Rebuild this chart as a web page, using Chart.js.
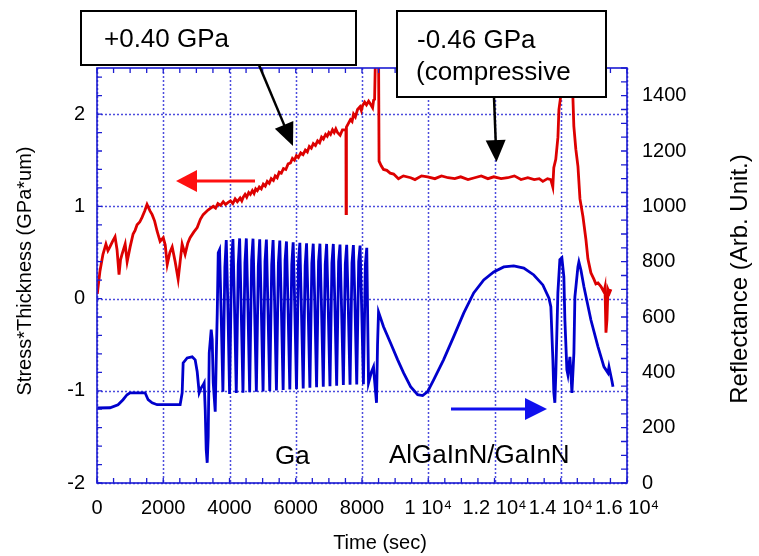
<!DOCTYPE html>
<html><head><meta charset="utf-8">
<script src="https://cdn.jsdelivr.net/npm/chart.js@4.4.0/dist/chart.umd.min.js"></script>
<style>html,body{margin:0;padding:0;background:#fff;}#wrap{width:759px;height:556px;}</style>
</head><body><div id="wrap"><canvas id="c" width="759" height="556"></canvas></div>
<script>
// ---- data ----
const redTime = [9,90,180,270,330,390,470,545,605,665,710,755,850,910,1000,1090,1150,1210,1290,1360,1440,1510,1600,1665,1740,1815,1905,2000,2060,2120,2200,2270,2360,2450,2510,2570,2660,2740,2810,2920,3025,3120,3205,3350,
3510,3580,3650,3730,3810,3880,3950,4030,4100,4170,4235,4320,4370,4415,4470,4520,4580,4630,4690,4740,4790,4840,4900,4960,5020,5080,5140,5200,5260,5325,5380,5440,5500,5565,5630,5700,5770,5840,5900,5960,6020,6080,6150,6220,6290,6350,6410,6470,6530,6595,6660,6720,6780,6835,6900,6950,7000,7050,7110,7160,7210,7260,7340,7410,7515,7520,
7530,7590,7650,7700,7745,7800,7865,7940,7980,8015,8080,8135,8200,8255,8320,8350,8380,8410,8500,8515,8580,8650,8750,8850,8955,9100,9250,9470,9600,9800,9980,10200,10400,10600,10800,10980,11200,11400,11600,11800,11980,12200,12400,12600,12800,13005,13200,13350,13460,13600,13700,13760,13790,13850,13915,13945,14005,14100,14185,14300,14365,14395,14455,14520,14580,14670,14760,14820,14910,15000,15060,15125,15215,15305,15335,15365,15395,15425,15470,15515];
const redStress = [0.05,0.30,0.48,0.59,0.52,0.56,0.62,0.67,0.53,0.26,0.42,0.48,0.59,0.40,0.56,0.70,0.74,0.80,0.83,0.88,0.95,1.02,0.95,0.91,0.84,0.73,0.62,0.66,0.58,0.37,0.50,0.56,0.40,0.21,0.40,0.59,0.48,0.60,0.66,0.72,0.77,0.86,0.91,0.96,
1.00,0.98,1.03,1.01,1.05,1.02,1.04,1.06,1.03,1.08,1.05,1.09,1.06,1.10,1.13,1.10,1.15,1.13,1.17,1.14,1.19,1.17,1.21,1.19,1.24,1.22,1.27,1.25,1.30,1.28,1.33,1.31,1.37,1.36,1.41,1.40,1.46,1.47,1.52,1.50,1.55,1.53,1.58,1.56,1.61,1.59,1.65,1.63,1.68,1.66,1.71,1.69,1.75,1.73,1.78,1.76,1.80,1.78,1.83,1.80,1.84,1.80,1.77,1.83,1.83,0.92,
1.86,1.90,1.94,1.92,2.00,1.97,2.05,2.08,2.04,2.09,2.13,2.10,2.14,2.11,2.07,2.15,2.16,2.70,2.70,1.49,1.44,1.40,1.39,1.36,1.35,1.30,1.33,1.31,1.29,1.33,1.32,1.30,1.33,1.31,1.30,1.32,1.29,1.31,1.33,1.30,1.32,1.30,1.31,1.33,1.29,1.31,1.29,1.30,1.27,1.30,1.29,1.21,1.42,1.51,1.75,2.05,2.21,2.25,2.23,2.24,2.20,1.87,1.62,1.43,1.08,0.89,0.64,0.43,0.28,0.21,0.16,0.17,0.13,0.07,0.12,-0.37,-0.23,0.10,0.06,0.10];

const blueTime = [9,393,635,786,907,998,1452,1543,1664,1815,2510,2571,2601,2722,2873,2964,3025,3085,3146,3206,3236,3267,3297,3327,3357,3388,3448,3478,3509,3569,3599,3630,3660,
3700,3745,3801,3860,3902,3947,4003,4062,4104,4149,4205,4264,4306,4351,4407,4466,4508,4553,4609,4668,4710,4755,4811,4870,4912,4957,5013,5072,5114,5159,5215,5274,5316,5361,5417,5476,5518,5563,5619,5678,5720,5765,5821,5880,5922,5967,6023,6082,6124,6169,6225,6284,6326,6371,6427,6486,6528,6573,6629,6688,6730,6775,6831,6890,6932,6977,7033,7092,7134,7179,7235,7294,7336,7381,7437,7496,7538,7583,7639,7698,7740,7785,7841,7900,7942,7987,8043,8102,8144,
8197,8287,8348,8378,8438,8469,8499,8650,8862,9074,9255,9467,9679,9830,9981,10163,10465,10768,11070,11372,11675,11977,12280,12582,12885,13187,13459,13641,13701,13762,13792,13822,13852,13913,13973,14034,14094,14125,14185,14216,14276,14306,14337,14397,14427,14518,14548,14609,14700,14911,15123,15305,15426,15456,15547,15577];
const blueRefl = [271,272,283,301,319,326,326,301,290,283,283,326,434,452,456,445,402,326,344,355,362,265,120,73,167,470,554,518,362,258,445,615,832,
843,630,330,780,878,660,322,800,882,650,325,790,884,640,326,795,884,655,328,805,883,645,330,785,881,650,331,800,880,640,333,790,878,660,334,795,876,650,336,805,873,645,338,790,870,655,340,800,868,640,342,785,866,650,344,795,865,660,346,800,865,645,348,790,864,650,350,795,864,655,352,800,862,640,354,790,861,650,355,795,860,660,356,800,858,645,357,790,850,
362,402,420,373,290,500,618,565,506,446,398,348,319,316,330,373,446,529,614,687,734,763,781,785,777,752,716,669,637,446,326,290,398,687,807,814,745,589,409,391,456,398,326,470,673,781,799,770,709,589,493,420,398,420,368,348];

const xTickValues = [0,2000,4000,6000,8000,10000,12000,14000,16000];
const xTickLabels = ['0','2000','4000','6000','8000','1 10\u2074','1.2 10\u2074','1.4 10\u2074','1.6 10\u2074'];
const leftTickValues = [-2,-1,0,1,2];
const leftTickLabels = ['-2','-1','0','1','2'];
const rightTickValues = [0,200,400,600,800,1000,1200,1400];
const rightTickLabels = ['0','200','400','600','800','1000','1200','1400'];

const FONT = "'Liberation Sans', Arial, Helvetica, sans-serif";
const FRAME = '#1c1cd2';
const GRID = 'rgba(45,45,215,0.85)';
const RED = '#dd0000';
const BLUE = '#0000cc';

function arrow(ctx, x1, y1, x2, y2, color, lw, hl, hw) {
  const dx = x2 - x1, dy = y2 - y1, L = Math.hypot(dx, dy);
  const ux = dx / L, uy = dy / L;
  const bx = x2 - ux * hl, by = y2 - uy * hl;
  ctx.save();
  ctx.strokeStyle = color; ctx.fillStyle = color; ctx.lineWidth = lw; ctx.setLineDash([]);
  ctx.beginPath(); ctx.moveTo(x1, y1); ctx.lineTo(bx + ux * 2, by + uy * 2); ctx.stroke();
  ctx.beginPath(); ctx.moveTo(x2, y2);
  ctx.lineTo(bx - uy * hw, by + ux * hw);
  ctx.lineTo(bx + uy * hw, by - ux * hw);
  ctx.closePath(); ctx.fill();
  ctx.restore();
}

const decor = {
  id: 'decor',
  beforeDatasetsDraw(chart) {
    const {ctx, chartArea: a, scales} = chart;
    ctx.save();
    ctx.strokeStyle = GRID; ctx.lineWidth = 1.5; ctx.setLineDash([2, 2]);
    xTickValues.forEach(v => {
      const x = Math.round(scales.x.getPixelForValue(v)) + 0.5;
      ctx.beginPath(); ctx.moveTo(x, a.top); ctx.lineTo(x, a.bottom); ctx.stroke();
    });
    leftTickValues.forEach(v => {
      const y = Math.round(scales.y.getPixelForValue(v)) + 0.5;
      ctx.beginPath(); ctx.moveTo(a.left, y); ctx.lineTo(a.right, y); ctx.stroke();
    });
    ctx.restore();
  },
  afterDatasetsDraw(chart) {
    const {ctx, chartArea: a, scales} = chart;
    ctx.save();
    ctx.strokeStyle = FRAME; ctx.lineWidth = 1.6; ctx.setLineDash([]);
    ctx.strokeRect(a.left, a.top, a.right - a.left, a.bottom - a.top);
    ctx.lineWidth = 1.3;
    ctx.beginPath();
    for (let i = 0; i <= 32; i++) {
      const x = scales.x.getPixelForValue(i * 500);
      ctx.moveTo(x, a.bottom); ctx.lineTo(x, a.bottom - 5);
      ctx.moveTo(x, a.top); ctx.lineTo(x, a.top + 5);
    }
    for (let i = -10; i <= 12; i++) {
      const y = scales.y.getPixelForValue(i / 5);
      ctx.moveTo(a.left, y); ctx.lineTo(a.left + 5, y);
    }
    for (let i = 0; i <= 30; i++) {
      const y = scales.y2.getPixelForValue(i * 50);
      ctx.moveTo(a.right, y); ctx.lineTo(a.right - 6, y);
    }
    ctx.stroke();
    ctx.restore();
  },
  afterDraw(chart) {
    const ctx = chart.ctx;
    ctx.save();
    arrow(ctx, 255, 181, 176, 181, '#ff1010', 3, 21, 11);
    arrow(ctx, 451, 409, 547, 409, '#1010ee', 3, 22, 11);
    ctx.fillStyle = '#fff'; ctx.strokeStyle = '#000'; ctx.lineWidth = 2;
    ctx.fillRect(81, 11, 275, 54); ctx.strokeRect(81, 11, 275, 54);
    ctx.fillRect(397, 11, 209, 86); ctx.strokeRect(397, 11, 209, 86);
    arrow(ctx, 259, 65, 293, 146, '#000', 2.5, 23, 10);
    arrow(ctx, 494, 97, 496.5, 162, '#000', 2.5, 22, 10);
    ctx.fillStyle = '#000';
    ctx.textAlign = 'left'; ctx.textBaseline = 'middle';
    ctx.font = '26px ' + FONT;
    ctx.fillText('+0.40 GPa', 104, 40);
    ctx.fillText('-0.46 GPa', 417, 41);
    ctx.fillText('(compressive', 416, 73);
    ctx.fillText('Ga', 275, 457);
    ctx.fillText('AlGaInN/GaInN', 389, 456);
    ctx.textAlign = 'center';
    ctx.font = '20px ' + FONT;
    ctx.fillText('Time (sec)', 380, 543);
    ctx.save(); ctx.translate(25, 271); ctx.rotate(-Math.PI / 2);
    ctx.fillText('Stress*Thickness (GPa*um)', 0, 0); ctx.restore();
    ctx.save(); ctx.translate(740, 279); ctx.rotate(-Math.PI / 2);
    ctx.font = '24px ' + FONT;
    ctx.fillText('Reflectance (Arb. Unit.)', 0, 0); ctx.restore();
    ctx.restore();
  }
};

const tickFont = {family: FONT, size: 20};

new Chart(document.getElementById('c'), {
  type: 'line',
  data: {
    datasets: [
      {label: 'Stress*Thickness', data: redTime.map((t, i) => ({x: t, y: redStress[i]})), yAxisID: 'y',
       borderColor: RED, borderWidth: 2.8, pointRadius: 0, tension: 0, fill: false},
      {label: 'Reflectance', data: blueTime.map((t, i) => ({x: t, y: blueRefl[i]})), yAxisID: 'y2',
       borderColor: BLUE, borderWidth: 2.8, pointRadius: 0, tension: 0, fill: false}
    ]
  },
  options: {
    responsive: false, animation: false, devicePixelRatio: 1,
    layout: {padding: {top: 68, left: 0, right: 0, bottom: 0}},
    plugins: {legend: {display: false}, tooltip: {enabled: false}},
    scales: {
      x: {type: 'linear', position: 'bottom', min: 0, max: 16000,
          afterBuildTicks: s => { s.ticks = xTickValues.map(v => ({value: v})); },
          afterFit: s => { s.height = 73; },
          ticks: {font: tickFont, color: '#000', padding: 13, autoSkip: false, maxRotation: 0, minRotation: 0,
                  callback: v => xTickLabels[xTickValues.indexOf(v)]},
          grid: {display: false, drawTicks: false}, border: {display: false}},
      y: {type: 'linear', position: 'left', min: -2, max: 2.5,
          afterBuildTicks: s => { s.ticks = leftTickValues.map(v => ({value: v})); },
          afterFit: s => { s.width = 97; },
          ticks: {font: tickFont, color: '#000', padding: 12,
                  callback: v => leftTickLabels[leftTickValues.indexOf(v)]},
          grid: {display: false, drawTicks: false}, border: {display: false}},
      y2: {type: 'linear', position: 'right', min: 0, max: 1500,
          afterBuildTicks: s => { s.ticks = rightTickValues.map(v => ({value: v})); },
          afterFit: s => { s.width = 132; },
          ticks: {font: tickFont, color: '#000', padding: 15,
                  callback: v => rightTickLabels[rightTickValues.indexOf(v)]},
          grid: {display: false, drawTicks: false}, border: {display: false}}
    }
  },
  plugins: [decor]
});
</script>
</body></html>
